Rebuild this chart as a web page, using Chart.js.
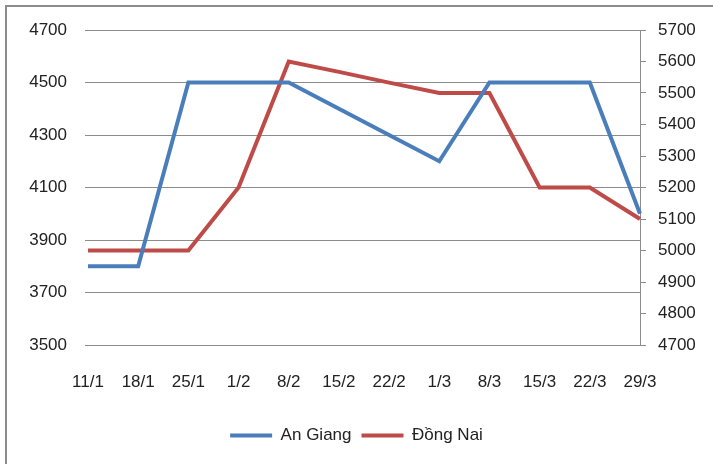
<!DOCTYPE html>
<html>
<head>
<meta charset="utf-8">
<script src="https://cdn.jsdelivr.net/npm/chart.js@4/dist/chart.umd.min.js"></script>
<style>
    body { margin: 0; background: #fff; overflow: hidden; }
    #wrap { position: relative; width: 713px; height: 464px; }
    #frame { position: absolute; left: 5px; top: 5px; width: 800px; height: 600px;
             border-left: 2px solid #8c8c8c; border-top: 2px solid #8c8c8c; }
    #graph1 { position: absolute; left: 0; top: 0; }
</style>
</head>
<body>
<div id="wrap">
    <div id="frame"></div>
    <canvas id="graph1" width="713" height="464"></canvas>
</div>
<script>
    var ngay = ['11/1', '18/1', '25/1', '1/2', '8/2', '15/2', '22/2', '1/3', '8/3', '15/3', '22/3', '29/3'];
    var anGiang = [3800, 3800, 4500, 4500, 4500, 4400, 4300, 4200, 4500, 4500, 4500, 4000];
    var dongNai = [5000, 5000, 5000, 5200, 5600, 5567, 5533, 5500, 5500, 5200, 5200, 5100];

    var mauChu = '#222222';
    var mauLuoi = '#8c8c8c';

    Chart.defaults.font.family = '"Liberation Sans", Arial, sans-serif';
    Chart.defaults.font.size = 17;
    Chart.defaults.color = mauChu;

function soTron(value) {
    return String(value);
}

window.onload = function() {
    var ctx = document.getElementById('graph1').getContext('2d');
    window.giaChart = new Chart(ctx, {
        type: 'line',
        data: {
            labels: ngay,
            datasets: [{
                label: 'An Giang',
                data: anGiang,
                yAxisID: 'y',
                borderColor: '#4a7ebb',
                backgroundColor: '#4a7ebb',
                borderWidth: 4,
                pointRadius: 0,
                tension: 0,
                clip: false
            }, {
                label: 'Đồng Nai',
                data: dongNai,
                yAxisID: 'y1',
                borderColor: '#be4b48',
                backgroundColor: '#be4b48',
                borderWidth: 4,
                pointRadius: 0,
                tension: 0,
                clip: false
            }]
        },
        options: {
            responsive: false,
            animation: false,
            layout: {
                padding: { top: 30, left: 0, right: 0, bottom: 10 }
            },
            plugins: {
                legend: {
                    position: 'bottom',
                    labels: {
                        usePointStyle: true,
                        pointStyle: 'line',
                        pointStyleWidth: 42,
                        padding: 10,
                        color: mauChu
                    }
                },
                tooltip: { enabled: false },
                title: { display: false }
            },
            scales: {
                x: {
                    offset: false,
                    grid: { display: false },
                    border: { display: false },
                    ticks: { padding: 19, maxRotation: 0, autoSkip: false },
                    afterFit: function(scale) { scale.height = 72; }
                },
                y: {
                    position: 'left',
                    min: 3500,
                    max: 4700,
                    ticks: { stepSize: 200, padding: 18, callback: soTron },
                    grid: { color: mauLuoi, tickLength: 3 },
                    border: { display: false },
                    afterFit: function(scale) { scale.width = 88; }
                },
                y1: {
                    position: 'right',
                    min: 4700,
                    max: 5700,
                    ticks: { stepSize: 100, padding: 12, callback: soTron },
                    grid: { drawOnChartArea: false, color: mauLuoi, tickLength: 6 },
                    border: { display: true, color: mauLuoi },
                    afterFit: function(scale) { scale.width = 73; }
                }
            }
        }
    });
};
</script>
</body>
</html>
